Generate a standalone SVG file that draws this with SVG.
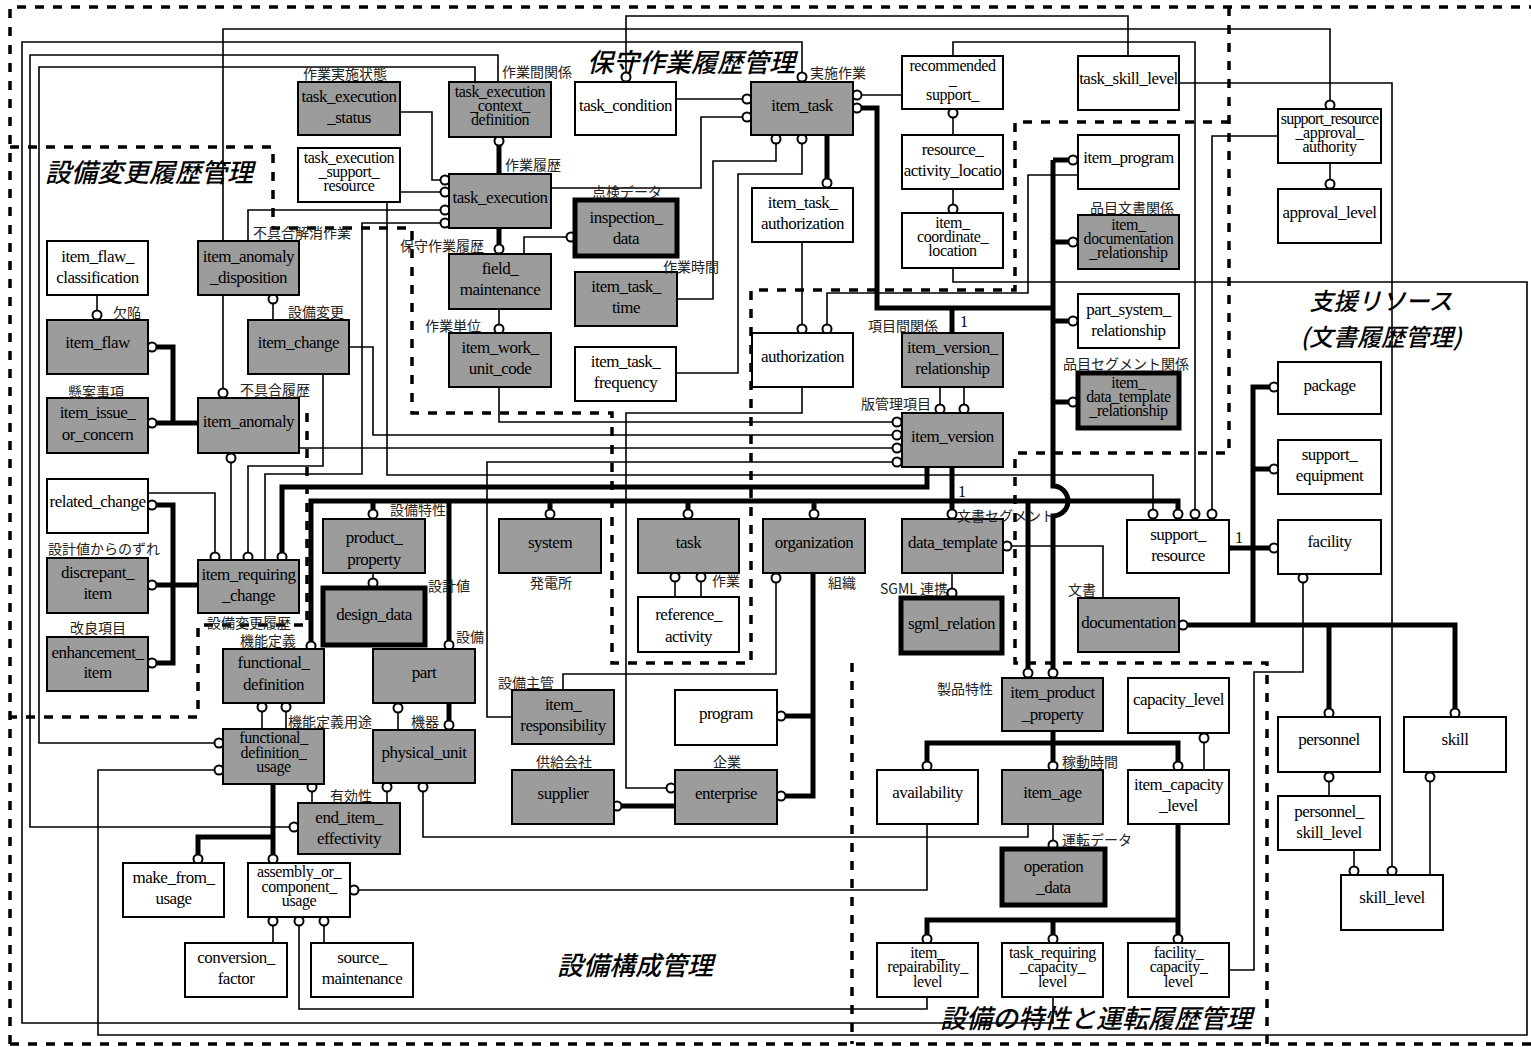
<svg xmlns="http://www.w3.org/2000/svg" width="1531" height="1047" viewBox="0 0 1531 1047">
<style>
.n rect{stroke:#000;stroke-width:2}
.g{fill:#9c9c9c}.w{fill:#fff}
.n rect.tb{stroke-width:5}
.n text{font-family:"Liberation Serif",serif;font-size:17px;letter-spacing:-0.5px;text-anchor:middle;fill:#000}
.n text.s{font-size:16px;letter-spacing:-0.4px}
.n text.s2{font-size:16px;letter-spacing:-0.8px}
.lbl{font-family:"Noto Sans CJK JP",sans-serif;font-size:14px;fill:#222}
.one{font-family:"Liberation Serif",serif;font-size:16px;fill:#000}
.rt{font-family:"Noto Sans CJK JP",sans-serif;font-size:26px;font-style:italic;font-weight:500;fill:#000}
.rt2{font-size:24px}
.l{stroke:#000;stroke-width:1.6;fill:none}
.k{stroke:#000;stroke-width:5;fill:none}
.c{fill:#fff;stroke:#000;stroke-width:2}
.d{stroke:#000;stroke-width:3.5;fill:none;stroke-dasharray:9 9}
</style>
<rect width="1531" height="1047" fill="#fff"/>
<g id="regions">
<path class="d" d="M10,1044 V7 H1531"/>
<path class="d" d="M10,1044 H1531"/>
<path class="d" d="M10,147 H273 V228 H412 V413 H612 V663 H751 V290 H1015 V122 H1229"/>
<path class="d" d="M1229,7 V453 H1015 V663 H1267 V1044"/>
<path class="d" d="M852,663 V1044"/>
<path class="d" d="M307,413 V625 H198 V717 H10"/>
<text class="rt" x="587" y="72">保守作業履歴管理</text>
<text class="rt" x="45" y="182">設備変更履歴管理</text>
<text class="rt rt2" x="1381" y="310" text-anchor="middle">支援リソース</text>
<text class="rt rt2" x="1381" y="346" text-anchor="middle">(文書履歴管理)</text>
<text class="rt" x="557" y="975">設備構成管理</text>
<text class="rt" x="940" y="1028">設備の特性と運転履歴管理</text>
</g>
<g id="connectors">
<path class="l" d="M626,72 V16 H1128 V56"/>
<path class="l" d="M223,388 V29 H1330 V100"/>
<path class="l" d="M802,72 V42 H22 V1023 H1053 V997"/>
<path class="l" d="M953,56 V42 H1195 V509"/>
<path class="l" d="M1179,83 H1392 V866"/>
<path class="l" d="M1278,136 H1212 V509"/>
<path class="l" d="M1330,163 V179"/>
<path class="l" d="M676,99 H742"/>
<path class="l" d="M551,188 H701 V117 H742"/>
<path class="l" d="M677,299 H713 V161 H776 V144"/>
<path class="l" d="M676,373 H738 V174 H802 V144"/>
<path class="l" d="M861,95 H902"/>
<path class="l" d="M400,112 H432 V180 H440"/>
<path class="l" d="M400,192 H440"/>
<path class="l" d="M248,241 V210 H440"/>
<path class="l" d="M265,560 V474 H362 V223 H440"/>
<path class="l" d="M387,202 V475 H1153 V509"/>
<path class="l" d="M566,237 H524 V254"/>
<path class="l" d="M499,309 V324"/>
<path class="l" d="M499,387 V422 H892"/>
<path class="l" d="M349,347 H373 V435 H892"/>
<path class="l" d="M299,448 H892"/>
<path class="l" d="M512,717 H487 V462 H892"/>
<path class="l" d="M940,387 V404 M964,387 V404"/>
<path class="l" d="M802,242 V324"/>
<path class="l" d="M1078,175 H1028 V293 H827 V324"/>
<path class="l" d="M953,118 V135"/>
<path class="l" d="M953,189 V204"/>
<path class="l" d="M953,268 V282 H1527 V1035 H98 V770 H214"/>
<path class="l" d="M498,82 V55 H30 V827 H289"/>
<path class="l" d="M475,82 V67 H39 V743 H214"/>
<path class="l" d="M802,387 V413 H626 V788 H666"/>
<path class="l" d="M776,583 V674 H563 V690"/>
<path class="l" d="M1012,546 H1103 V598"/>
<path class="l" d="M952,573 V588"/>
<path class="l" d="M675,582 V597 M701,582 V597"/>
<path class="l" d="M373,573 V578"/>
<path class="l" d="M398,713 V730"/>
<path class="l" d="M387,792 V803"/>
<path class="l" d="M312,792 V803"/>
<path class="l" d="M423,792 V837 H1028 V824"/>
<path class="l" d="M262,712 V729 M286,712 V729"/>
<path class="l" d="M359,890 H927 V824"/>
<path class="l" d="M273,926 V943 M324,926 V943"/>
<path class="l" d="M299,926 V1009 H927 V997"/>
<path class="l" d="M97,295 V310"/>
<path class="l" d="M273,304 V320"/>
<path class="l" d="M323,374 V466 H248 V552"/>
<path class="l" d="M231,463 V560"/>
<path class="l" d="M148,493 H215 V552"/>
<path class="l" d="M1204,743 V770"/>
<path class="l" d="M1053,824 V840"/>
<path class="l" d="M1303,583 V672 H1254 V970 H1229"/>
<path class="l" d="M1329,782 V796"/>
<path class="l" d="M1354,851 V866"/>
<path class="l" d="M1430,782 V875"/>
<path class="k" d="M499,146 V174"/>
<path class="k" d="M499,228 V244"/>
<path class="k" d="M827,135 V178"/>
<path class="k" d="M862,108 H877 V308 H1053 M952,308 V333"/>
<path class="k" d="M1053,160 V486 A15,15 0 0 1 1053,516 V668"/>
<path class="k" d="M1053,160 H1068 M1053,242 H1068 M1053,321 H1068 M1053,402 H1068"/>
<path class="k" d="M282,552 V487 H927 V467"/>
<path class="k" d="M311,641 V501 H1178 V509"/>
<path class="k" d="M373,501 V509 M449,501 V640 M550,501 V509 M688,501 V509 M814,501 V509 M952,467 V509 M1028,501 V668"/>
<path class="k" d="M157,347 H173 V423 H198 M157,423 H173"/>
<path class="k" d="M157,505 H173 V663 H157 M157,585 H198"/>
<path class="k" d="M273,784 V854 M273,837 H198 V854"/>
<path class="k" d="M449,703 V720"/>
<path class="k" d="M813,573 V796 H786 M813,716 H786"/>
<path class="k" d="M622,806 H675"/>
<path class="k" d="M1053,731 V761 M927,761 V743 H1178 V761"/>
<path class="k" d="M1178,824 V934 M1178,920 H927 V934 M1053,920 V934"/>
<path class="k" d="M1229,548 H1269 M1253,625 V387 H1269 M1253,469 H1269 M1188,625 H1455 V708 M1329,625 V708"/>
<circle cx="1230" cy="548" r="2.5" fill="#000"/>
<g class="c">
<circle cx="626" cy="77" r="4.5"/><circle cx="223" cy="393" r="4.5"/><circle cx="1330" cy="105" r="4.5"/>
<circle cx="802" cy="77" r="4.5"/><circle cx="1195" cy="514" r="4.5"/><circle cx="1392" cy="871" r="4.5"/>
<circle cx="1212" cy="514" r="4.5"/><circle cx="1330" cy="184" r="4.5"/><circle cx="747" cy="99" r="4.5"/>
<circle cx="747" cy="117" r="4.5"/><circle cx="776" cy="139" r="4.5"/><circle cx="802" cy="139" r="4.5"/>
<circle cx="857" cy="95" r="4.5"/><circle cx="445" cy="180" r="4.5"/><circle cx="445" cy="192" r="4.5"/>
<circle cx="445" cy="210" r="4.5"/><circle cx="445" cy="223" r="4.5"/><circle cx="1153" cy="514" r="4.5"/>
<circle cx="571" cy="237" r="4.5"/><circle cx="499" cy="329" r="4.5"/><circle cx="897" cy="422" r="4.5"/>
<circle cx="897" cy="435" r="4.5"/><circle cx="897" cy="448" r="4.5"/><circle cx="897" cy="462" r="4.5"/>
<circle cx="940" cy="409" r="4.5"/><circle cx="964" cy="409" r="4.5"/><circle cx="802" cy="329" r="4.5"/>
<circle cx="827" cy="329" r="4.5"/><circle cx="953" cy="113" r="4.5"/><circle cx="953" cy="209" r="4.5"/>
<circle cx="219" cy="770" r="4.5"/><circle cx="294" cy="827" r="4.5"/><circle cx="219" cy="743" r="4.5"/>
<circle cx="671" cy="788" r="4.5"/><circle cx="776" cy="578" r="4.5"/><circle cx="1007" cy="546" r="4.5"/>
<circle cx="952" cy="593" r="4.5"/><circle cx="675" cy="577" r="4.5"/><circle cx="701" cy="577" r="4.5"/>
<circle cx="373" cy="583" r="4.5"/><circle cx="398" cy="708" r="4.5"/><circle cx="387" cy="787" r="4.5"/>
<circle cx="312" cy="787" r="4.5"/><circle cx="423" cy="787" r="4.5"/><circle cx="262" cy="707" r="4.5"/>
<circle cx="286" cy="707" r="4.5"/><circle cx="354" cy="890" r="4.5"/><circle cx="273" cy="921" r="4.5"/>
<circle cx="324" cy="921" r="4.5"/><circle cx="299" cy="921" r="4.5"/><circle cx="97" cy="315" r="4.5"/>
<circle cx="273" cy="299" r="4.5"/><circle cx="248" cy="557" r="4.5"/><circle cx="231" cy="458" r="4.5"/>
<circle cx="215" cy="557" r="4.5"/><circle cx="1204" cy="738" r="4.5"/><circle cx="1053" cy="845" r="4.5"/>
<circle cx="1303" cy="578" r="4.5"/><circle cx="1329" cy="777" r="4.5"/><circle cx="1354" cy="871" r="4.5"/>
<circle cx="1430" cy="777" r="4.5"/>
<circle cx="499" cy="141" r="4.5"/><circle cx="499" cy="249" r="4.5"/><circle cx="827" cy="183" r="4.5"/>
<circle cx="857" cy="108" r="4.5"/><circle cx="1073" cy="160" r="4.5"/><circle cx="1073" cy="242" r="4.5"/>
<circle cx="1073" cy="321" r="4.5"/><circle cx="1073" cy="402" r="4.5"/><circle cx="1053" cy="673" r="4.5"/>
<circle cx="282" cy="557" r="4.5"/><circle cx="311" cy="646" r="4.5"/><circle cx="1178" cy="514" r="4.5"/>
<circle cx="373" cy="514" r="4.5"/><circle cx="449" cy="645" r="4.5"/><circle cx="550" cy="514" r="4.5"/>
<circle cx="688" cy="514" r="4.5"/><circle cx="814" cy="514" r="4.5"/><circle cx="952" cy="514" r="4.5"/>
<circle cx="1028" cy="673" r="4.5"/><circle cx="152" cy="347" r="4.5"/><circle cx="152" cy="423" r="4.5"/>
<circle cx="152" cy="505" r="4.5"/><circle cx="152" cy="585" r="4.5"/><circle cx="152" cy="663" r="4.5"/>
<circle cx="273" cy="859" r="4.5"/><circle cx="198" cy="859" r="4.5"/><circle cx="449" cy="725" r="4.5"/>
<circle cx="781" cy="716" r="4.5"/><circle cx="781" cy="796" r="4.5"/><circle cx="617" cy="806" r="4.5"/>
<circle cx="1053" cy="766" r="4.5"/><circle cx="927" cy="766" r="4.5"/><circle cx="1178" cy="766" r="4.5"/>
<circle cx="1178" cy="939" r="4.5"/><circle cx="927" cy="939" r="4.5"/><circle cx="1053" cy="939" r="4.5"/>
<circle cx="1274" cy="548" r="4.5"/><circle cx="1274" cy="387" r="4.5"/><circle cx="1274" cy="469" r="4.5"/>
<circle cx="1183" cy="625" r="4.5"/><circle cx="1455" cy="713" r="4.5"/><circle cx="1329" cy="713" r="4.5"/>
</g>
</g>
<g id="nodes" class="n">
<g id="task_execution_status"><rect class="g" x="298" y="82" width="102" height="53"/><text x="349" y="102">task_execution</text><text x="349" y="123">_status</text></g>
<g id="task_execution_support_resource"><rect class="w" x="298" y="148" width="102" height="54"/><text class="s" x="349" y="163">task_execution</text><text class="s" x="349" y="177">_support_</text><text class="s" x="349" y="191">resource</text></g>
<g id="task_execution_context_definition"><rect class="g" x="449" y="82" width="102" height="55"/><text class="s" x="500" y="97">task_execution</text><text class="s" x="500" y="111">_context_</text><text class="s" x="500" y="125">definition</text></g>
<g id="task_condition"><rect class="w" x="575" y="82" width="101" height="53"/><text x="625.5" y="111">task_condition</text></g>
<g id="item_task"><rect class="g" x="751" y="82" width="102" height="53"/><text x="802" y="111">item_task</text></g>
<g id="recommended_support"><rect class="w" x="902" y="56" width="101" height="53"/><text class="s" x="952.5" y="71">recommended</text><text class="s" x="952.5" y="85">_</text><text class="s" x="952.5" y="100">support_</text></g>
<g id="task_skill_level"><rect class="w" x="1078" y="56" width="101" height="54"/><text x="1128.5" y="84">task_skill_level</text></g>
<g id="support_resource_approval_authority"><rect class="w" x="1278" y="109" width="103" height="54"/><text class="s2" x="1329.5" y="124">support_resource</text><text class="s" x="1329.5" y="138">_approval_</text><text class="s" x="1329.5" y="152">authority</text></g>
<g id="approval_level"><rect class="w" x="1278" y="189" width="103" height="54"/><text x="1329.5" y="218">approval_level</text></g>
<g id="task_execution"><rect class="g" x="449" y="174" width="102" height="54"/><text x="500" y="203">task_execution</text></g>
<g id="inspection_data"><rect class="g tb" x="575" y="200" width="102" height="56"/><text x="626" y="223">inspection_</text><text x="626" y="244">data</text></g>
<g id="field_maintenance"><rect class="g" x="449" y="254" width="102" height="55"/><text x="500" y="274">field_</text><text x="500" y="295">maintenance</text></g>
<g id="item_task_time"><rect class="g" x="575" y="272" width="102" height="54"/><text x="626" y="292">item_task_</text><text x="626" y="313">time</text></g>
<g id="item_work_unit_code"><rect class="g" x="449" y="333" width="102" height="54"/><text x="500" y="353">item_work_</text><text x="500" y="374">unit_code</text></g>
<g id="item_task_frequency"><rect class="w" x="575" y="347" width="101" height="54"/><text x="625.5" y="367">item_task_</text><text x="625.5" y="388">frequency</text></g>
<g id="item_task_authorization"><rect class="w" x="752" y="188" width="101" height="54"/><text x="802.5" y="208">item_task_</text><text x="802.5" y="229">authorization</text></g>
<g id="resource_activity_locatio"><rect class="w" x="902" y="135" width="101" height="54"/><text x="952.5" y="155">resource_</text><text x="952.5" y="176">activity_locatio</text></g>
<g id="item_coordinate_location"><rect class="w" x="902" y="213" width="101" height="55"/><text class="s" x="952.5" y="228">item_</text><text class="s" x="952.5" y="242">coordinate_</text><text class="s" x="952.5" y="256">location</text></g>
<g id="item_program"><rect class="w" x="1078" y="135" width="101" height="54"/><text x="1128.5" y="163">item_program</text></g>
<g id="item_documentation_relationship"><rect class="g" x="1078" y="215" width="101" height="54"/><text class="s" x="1128.5" y="230">item_</text><text class="s" x="1128.5" y="244">documentation</text><text class="s" x="1128.5" y="258">_relationship</text></g>
<g id="part_system_relationship"><rect class="w" x="1078" y="294" width="101" height="54"/><text x="1128.5" y="315">part_system_</text><text x="1128.5" y="336">relationship</text></g>
<g id="item_data_template_relationship"><rect class="g tb" x="1078" y="373" width="101" height="55"/><text class="s" x="1128.5" y="388">item_</text><text class="s" x="1128.5" y="402">data_template</text><text class="s" x="1128.5" y="416">_relationship</text></g>
<g id="authorization"><rect class="w" x="752" y="333" width="101" height="54"/><text x="802.5" y="362">authorization</text></g>
<g id="item_version_relationship"><rect class="g" x="902" y="333" width="101" height="54"/><text x="952.5" y="353">item_version_</text><text x="952.5" y="374">relationship</text></g>
<g id="item_version"><rect class="g" x="902" y="413" width="101" height="54"/><text x="952.5" y="442">item_version</text></g>
<g id="package"><rect class="w" x="1278" y="362" width="103" height="52"/><text x="1329.5" y="391">package</text></g>
<g id="support_equipment"><rect class="w" x="1278" y="440" width="103" height="54"/><text x="1329.5" y="460">support_</text><text x="1329.5" y="481">equipment</text></g>
<g id="facility"><rect class="w" x="1278" y="520" width="103" height="54"/><text x="1329.5" y="547">facility</text></g>
<g id="support_resource"><rect class="w" x="1127" y="520" width="102" height="53"/><text x="1178" y="540">support_</text><text x="1178" y="561">resource</text></g>
<g id="documentation"><rect class="g" x="1078" y="598" width="101" height="54"/><text x="1128.5" y="628">documentation</text></g>
<g id="data_template"><rect class="g" x="902" y="519" width="101" height="54"/><text x="952.5" y="548">data_template</text></g>
<g id="sgml_relation"><rect class="g tb" x="901" y="598" width="101" height="55"/><text x="951.5" y="629">sgml_relation</text></g>
<g id="organization"><rect class="g" x="763" y="519" width="102" height="54"/><text x="814" y="548">organization</text></g>
<g id="task"><rect class="g" x="638" y="519" width="101" height="54"/><text x="688.5" y="548">task</text></g>
<g id="reference_activity"><rect class="w" x="638" y="597" width="101" height="55"/><text x="688.5" y="620">reference_</text><text x="688.5" y="642">activity</text></g>
<g id="system"><rect class="g" x="499" y="519" width="102" height="54"/><text x="550" y="548">system</text></g>
<g id="product_property"><rect class="g" x="323" y="519" width="102" height="54"/><text x="374" y="543">product_</text><text x="374" y="565">property</text></g>
<g id="design_data"><rect class="g tb" x="323" y="588" width="102" height="57"/><text x="374" y="620">design_data</text></g>
<g id="part"><rect class="g" x="373" y="649" width="102" height="54"/><text x="424" y="678">part</text></g>
<g id="functional_definition"><rect class="g" x="223" y="649" width="101" height="54"/><text x="273.5" y="668">functional_</text><text x="273.5" y="690">definition</text></g>
<g id="functional_definition_usage"><rect class="g" x="223" y="729" width="101" height="55"/><text class="s" x="273.5" y="743">functional_</text><text class="s" x="273.5" y="758">definition_</text><text class="s" x="273.5" y="772">usage</text></g>
<g id="physical_unit"><rect class="g" x="373" y="730" width="102" height="53"/><text x="424" y="758">physical_unit</text></g>
<g id="end_item_effectivity"><rect class="g" x="298" y="803" width="102" height="51"/><text x="349" y="823">end_item_</text><text x="349" y="844">effectivity</text></g>
<g id="make_from_usage"><rect class="w" x="123" y="863" width="101" height="54"/><text x="173.5" y="883">make_from_</text><text x="173.5" y="904">usage</text></g>
<g id="assembly_or_component_usage"><rect class="w" x="248" y="863" width="102" height="54"/><text class="s" x="299" y="877">assembly_or_</text><text class="s" x="299" y="892">component_</text><text class="s" x="299" y="906">usage</text></g>
<g id="conversion_factor"><rect class="w" x="185" y="943" width="102" height="54"/><text x="236" y="963">conversion_</text><text x="236" y="984">factor</text></g>
<g id="source_maintenance"><rect class="w" x="311" y="943" width="102" height="54"/><text x="362" y="963">source_</text><text x="362" y="984">maintenance</text></g>
<g id="item_responsibility"><rect class="g" x="512" y="690" width="102" height="54"/><text x="563" y="710">item_</text><text x="563" y="731">responsibility</text></g>
<g id="supplier"><rect class="g" x="512" y="770" width="102" height="54"/><text x="563" y="799">supplier</text></g>
<g id="program"><rect class="w" x="675" y="690" width="102" height="55"/><text x="726" y="719">program</text></g>
<g id="enterprise"><rect class="g" x="675" y="770" width="102" height="54"/><text x="726" y="799">enterprise</text></g>
<g id="item_product_property"><rect class="g" x="1002" y="678" width="101" height="53"/><text x="1052.5" y="698">item_product</text><text x="1052.5" y="720">_property</text></g>
<g id="capacity_level"><rect class="w" x="1128" y="678" width="101" height="55"/><text x="1178.5" y="705">capacity_level</text></g>
<g id="availability"><rect class="w" x="877" y="770" width="101" height="54"/><text x="927.5" y="798">availability</text></g>
<g id="item_age"><rect class="g" x="1002" y="770" width="101" height="54"/><text x="1052.5" y="798">item_age</text></g>
<g id="item_capacity_level"><rect class="w" x="1128" y="770" width="101" height="54"/><text x="1178.5" y="790">item_capacity</text><text x="1178.5" y="811">_level</text></g>
<g id="operation_data"><rect class="g tb" x="1002" y="849" width="103" height="56"/><text x="1053.5" y="872">operation</text><text x="1053.5" y="893">_data</text></g>
<g id="item_repairability_level"><rect class="w" x="877" y="943" width="101" height="54"/><text class="s" x="927.5" y="958">item_</text><text class="s" x="927.5" y="972">repairability_</text><text class="s" x="927.5" y="987">level</text></g>
<g id="task_requiring_capacity_level"><rect class="w" x="1002" y="943" width="101" height="54"/><text class="s" x="1052.5" y="958">task_requiring</text><text class="s" x="1052.5" y="972">_capacity_</text><text class="s" x="1052.5" y="987">level</text></g>
<g id="facility_capacity_level"><rect class="w" x="1128" y="943" width="101" height="54"/><text class="s" x="1178.5" y="958">facility_</text><text class="s" x="1178.5" y="972">capacity_</text><text class="s" x="1178.5" y="987">level</text></g>
<g id="personnel"><rect class="w" x="1278" y="717" width="102" height="55"/><text x="1329" y="745">personnel</text></g>
<g id="skill"><rect class="w" x="1404" y="717" width="102" height="55"/><text x="1455" y="745">skill</text></g>
<g id="personnel_skill_level"><rect class="w" x="1278" y="796" width="102" height="54"/><text x="1329" y="817">personnel_</text><text x="1329" y="838">skill_level</text></g>
<g id="skill_level"><rect class="w" x="1341" y="875" width="102" height="55"/><text x="1392" y="903">skill_level</text></g>
<g id="item_flaw_classification"><rect class="w" x="47" y="241" width="101" height="54"/><text x="97.5" y="262">item_flaw_</text><text x="97.5" y="283">classification</text></g>
<g id="item_anomaly_disposition"><rect class="g" x="198" y="241" width="101" height="54"/><text x="248.5" y="262">item_anomaly</text><text x="248.5" y="283">_disposition</text></g>
<g id="item_flaw"><rect class="g" x="47" y="320" width="101" height="54"/><text x="97.5" y="348">item_flaw</text></g>
<g id="item_change"><rect class="g" x="248" y="320" width="101" height="54"/><text x="298.5" y="348">item_change</text></g>
<g id="item_issue_or_concern"><rect class="g" x="47" y="398" width="101" height="55"/><text x="97.5" y="418">item_issue_</text><text x="97.5" y="440">or_concern</text></g>
<g id="item_anomaly"><rect class="g" x="198" y="398" width="101" height="55"/><text x="248.5" y="427">item_anomaly</text></g>
<g id="related_change"><rect class="w" x="47" y="479" width="101" height="54"/><text x="97.5" y="507">related_change</text></g>
<g id="discrepant_item"><rect class="g" x="47" y="558" width="101" height="55"/><text x="97.5" y="578">discrepant_</text><text x="97.5" y="599">item</text></g>
<g id="item_requiring_change"><rect class="g" x="198" y="560" width="101" height="53"/><text x="248.5" y="580">item_requiring</text><text x="248.5" y="601">_change</text></g>
<g id="enhancement_item"><rect class="g" x="47" y="637" width="101" height="54"/><text x="97.5" y="658">enhancement_</text><text x="97.5" y="678">item</text></g>
</g>
<g id="labels">
<text class="lbl" x="303" y="79">作業実施状態</text>
<text class="lbl" x="502" y="77">作業間関係</text>
<text class="lbl" x="810" y="78">実施作業</text>
<text class="lbl" x="505" y="170">作業履歴</text>
<text class="lbl" x="592" y="197">点検データ</text>
<text class="lbl" x="400" y="251">保守作業履歴</text>
<text class="lbl" x="663" y="272">作業時間</text>
<text class="lbl" x="425" y="331">作業単位</text>
<text class="lbl" x="253" y="238">不具合解消作業</text>
<text class="lbl" x="113" y="318">欠陥</text>
<text class="lbl" x="288" y="317">設備変更</text>
<text class="lbl" x="68" y="397">懸案事項</text>
<text class="lbl" x="240" y="395">不具合履歴</text>
<text class="lbl" x="48" y="554">設計値からのずれ</text>
<text class="lbl" x="70" y="633">改良項目</text>
<text class="lbl" x="207" y="628">設備変更履歴</text>
<text class="lbl" x="240" y="646">機能定義</text>
<text class="lbl" x="390" y="515">設備特性</text>
<text class="lbl" x="428" y="591">設計値</text>
<text class="lbl" x="456" y="642">設備</text>
<text class="lbl" x="530" y="588">発電所</text>
<text class="lbl" x="712" y="586">作業</text>
<text class="lbl" x="828" y="588">組織</text>
<text class="lbl" x="880" y="594">SGML 連携</text>
<text class="lbl" x="1068" y="595">文書</text>
<text class="lbl" x="957" y="521">文書セグメント</text>
<text class="lbl" x="861" y="409">版管理項目</text>
<text class="lbl" x="868" y="331">項目間関係</text>
<text class="lbl" x="1090" y="213">品目文書関係</text>
<text class="lbl" x="1063" y="369">品目セグメント関係</text>
<text class="lbl" x="498" y="688">設備主管</text>
<text class="lbl" x="288" y="727">機能定義用途</text>
<text class="lbl" x="411" y="727">機器</text>
<text class="lbl" x="330" y="801">有効性</text>
<text class="lbl" x="536" y="767">供給会社</text>
<text class="lbl" x="713" y="767">企業</text>
<text class="lbl" x="937" y="694">製品特性</text>
<text class="lbl" x="1062" y="767">稼動時間</text>
<text class="lbl" x="1062" y="845">運転データ</text>
<text class="one" x="960" y="327">1</text>
<text class="one" x="958" y="497">1</text>
<text class="one" x="1235" y="543">1</text>
</g>
</svg>
